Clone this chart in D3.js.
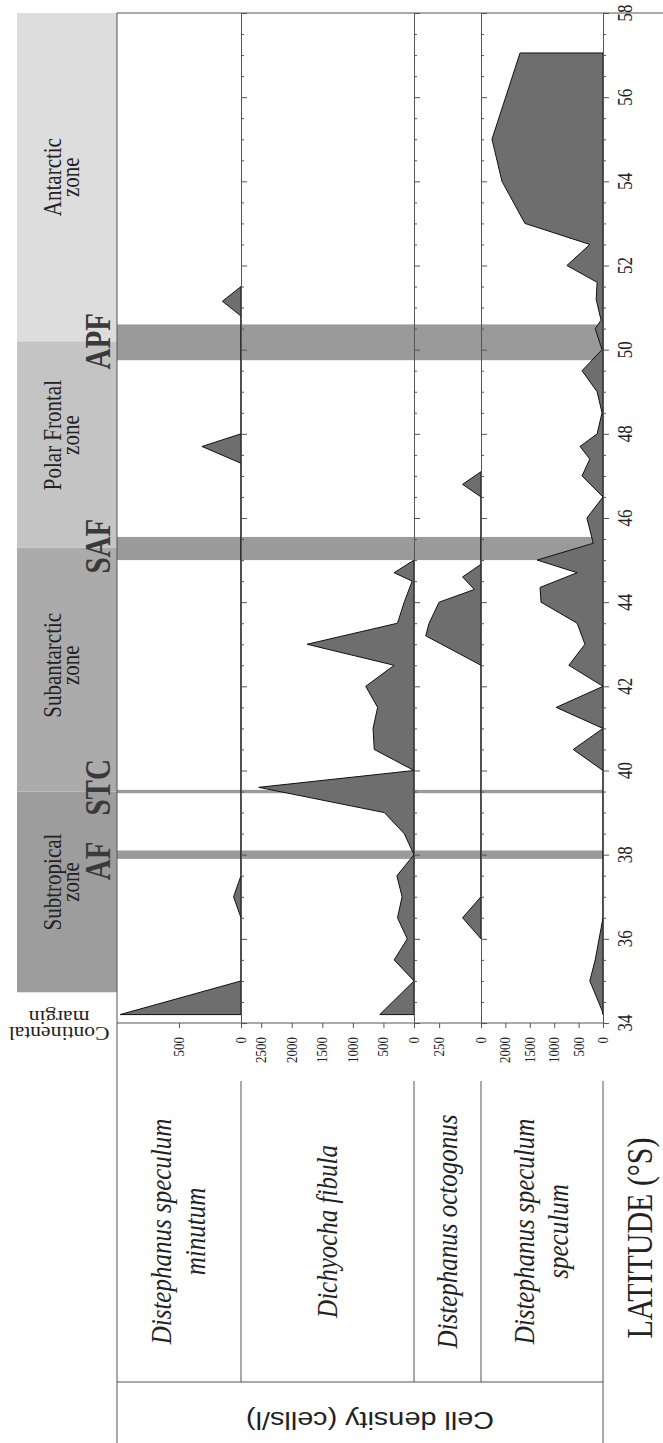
<!DOCTYPE html>
<html>
<head>
<meta charset="utf-8">
<script src="https://cdn.jsdelivr.net/npm/d3@7"></script>
<style>
  body { margin: 0; background: #fff; }
  svg { display: block; }
</style>
</head>
<body>
<div id="chart"></div>
<script>
// figure is drawn turned on its side: latitude runs up the page

// latitude samples (deg S) and densities (cells/l), one pair per species
var minutumLat = [34.2, 35.0, 36.5, 37.0, 37.5, 47.3, 47.7, 48.0, 50.8, 51.15, 51.5];
var minutumVal = [975, 0, 0, 60, 0, 0, 315, 0, 0, 150, 0];

var fibulaLat = [34.2, 35.0, 35.5, 36.0, 36.5, 37.0, 37.5, 38.0, 38.5, 39.0, 39.6, 40.0,
                 40.5, 41.0, 41.5, 42.0, 42.5, 43.0, 43.5, 44.0, 44.5, 44.7, 45.0];
var fibulaVal = [560, 0, 325, 110, 270, 195, 280, 0, 160, 485, 2540, 0,
                 650, 670, 595, 790, 325, 1750, 270, 160, 30, 325, 0];

var octogonusLat = [36.0, 36.5, 37.0, 42.5, 43.2, 43.5, 44.0, 44.3, 44.6, 44.9, 46.5, 46.8, 47.1];
var octogonusVal = [0, 110, 0, 0, 330, 310, 250, 40, 110, 0, 0, 110, 0];

var speculumLat = [34.2, 34.3, 35.0, 35.5, 36.5, 40.0, 40.5, 41.0, 41.5, 42.0, 42.5, 43.0, 43.5,
                   44.0, 44.35, 44.7, 45.0, 45.4, 46.0, 46.5, 47.0, 47.4, 47.7, 48.0, 48.5,
                   49.0, 49.5, 50.0, 50.5, 50.7, 51.2, 51.6, 52.0, 52.5, 53.0, 54.0, 55.0, 57.05];
var speculumVal = [0, 20, 270, 160, 0, 0, 610, 0, 960, 0, 700, 370, 530,
                   1270, 1290, 530, 1350, 200, 330, 0, 430, 270, 470, 120, 20,
                   120, 430, 20, 160, 40, 140, 120, 740, 270, 1600, 2070, 2275, 1700];

// species panels, left to right on the page
var panelNames = [["Distephanus speculum", "minutum"], ["Dichyocha fibula"],
                  ["Distephanus octogonus"], ["Distephanus speculum", "speculum"]];
var panelMax = [1000, 2830, 400, 2500];
var panelTicks = [[0, 500], [0, 500, 1000, 1500, 2000, 2500], [0, 250], [0, 500, 1000, 1500, 2000]];

// water masses and fronts
var zoneNames = [["Subtropical", "zone"], ["Subantarctic", "zone"], ["Polar Frontal", "zone"], ["Antarctic", "zone"]];
var zoneFrom = [34.73, 39.5, 45.3, 50.2];
var zoneTo = [39.5, 45.3, 50.2, 58];
var zoneLabelLat = [37.35, 42.5, 47.97, 54.1];
var frontNames = ["AF", "STC", "SAF", "APF"];
var frontFrom = [37.9, 39.46, 45.0, 49.75];
var frontTo = [38.1, 39.54, 45.55, 50.6];
var frontLabelLat = [37.85, 39.6, 45.33, 50.2];
var latTicks = d3.range(34, 58.01, 2);

var svgWidth = 663, svgHeight = 1443;
var plotLeft = 117, plotRight = 603, plotTop = 13, plotBottom = 1023;
var panelEdges = [117, 241, 414, 481, 603];
var zoneColors = ["#9d9d9d", "#ababab", "#c4c4c4", "#dddddd"];
var lineColor = "#555";
var stretch = 1.2;  // glyphs in the source are wider across the page

var svg = d3.select("#chart").append("svg")
  .attr("width", svgWidth)
  .attr("height", svgHeight);

var y = d3.scaleLinear().domain([34, 58]).range([plotBottom, plotTop]);

// text read bottom-to-top
function upText(x, yy, str, size, opt) {
  opt = opt || {};
  return svg.append("text")
    .attr("transform", "translate(" + x + "," + yy + ") rotate(-90) scale(1," + stretch + ")")
    .attr("text-anchor", opt.anchor || "middle")
    .attr("font-family", opt.family || "'Liberation Serif', serif")
    .attr("font-size", size)
    .attr("font-style", opt.italic ? "italic" : null)
    .attr("font-weight", opt.bold ? "bold" : null)
    .attr("fill", opt.fill || "#222")
    .text(str);
}
// text turned upside-down
function flipText(x, yy, str, size, opt) {
  opt = opt || {};
  return svg.append("text")
    .attr("transform", "translate(" + x + "," + yy + ") rotate(180) scale(" + stretch + ",1)")
    .attr("text-anchor", "middle")
    .attr("font-family", opt.family || "'Liberation Serif', serif")
    .attr("font-size", size)
    .attr("fill", opt.fill || "#222")
    .text(str);
}

// zone column
zoneNames.forEach(function(name, i) {
  svg.append("rect")
    .attr("x", 17).attr("width", plotLeft - 17)
    .attr("y", y(zoneTo[i])).attr("height", y(zoneFrom[i]) - y(zoneTo[i]))
    .attr("fill", zoneColors[i]);
  var cy = y(zoneLabelLat[i]);
  upText(61, cy, name[0], 21);
  upText(79, cy, name[1], 21);
});
flipText(59, 1011, "margin", 18);
flipText(59, 1027, "Continental", 18);

frontNames.forEach(function(name, i) {
  upText(110, y(frontLabelLat[i]), name, 29, {bold: true, fill: "#3a3a3a"});
});

// front bands across the panels
frontNames.forEach(function(name, i) {
  svg.append("rect")
    .attr("x", plotLeft).attr("width", plotRight - plotLeft)
    .attr("y", y(frontTo[i])).attr("height", Math.max(3, y(frontFrom[i]) - y(frontTo[i])))
    .attr("fill", "#9a9a9a");
});

// density profiles
var series = [[minutumLat, minutumVal], [fibulaLat, fibulaVal],
              [octogonusLat, octogonusVal], [speculumLat, speculumVal]];
series.forEach(function(s, i) {
  var x = d3.scaleLinear().domain([0, panelMax[i]]).range([panelEdges[i + 1], panelEdges[i]]);
  var pts = s[0].map(function(lat, j) { return {lat: lat, v: s[1][j]}; });
  var area = d3.area()
    .y(function(d) { return y(d.lat); })
    .x0(x(0))
    .x1(function(d) { return x(d.v); });
  svg.append("path")
    .datum(pts)
    .attr("d", area)
    .attr("fill", "#6e6e6e")
    .attr("stroke", "#111")
    .attr("stroke-width", 1)
    .attr("stroke-linejoin", "miter");

  // density axis under the panel
  var axis = d3.axisBottom(x).tickValues(panelTicks[i]).tickSize(5).tickFormat("");
  var g = svg.append("g")
    .attr("transform", "translate(0," + plotBottom + ")")
    .call(axis);
  g.select(".domain").remove();
  g.selectAll("line").attr("stroke", lineColor);
  panelTicks[i].forEach(function(t) {
    upText(x(t) + 5, 1037, String(t), 13, {anchor: "end"});
  });
});

// latitude ticks on every panel edge
panelEdges.slice(1).forEach(function(px) {
  var axis = d3.axisRight(y).tickValues(d3.range(34, 58.01, 0.5))
    .tickSize(3).tickFormat("");
  var g = svg.append("g").attr("transform", "translate(" + px + ",0)").call(axis);
  g.select(".domain").attr("stroke", lineColor);
  g.selectAll("line").attr("stroke", lineColor)
    .attr("x2", function(d) { return d % 2 === 0 ? 6 : 3; });
});

// frame
svg.append("line").attr("x1", plotLeft).attr("x2", svgWidth).attr("y1", plotTop).attr("y2", plotTop)
  .attr("stroke", lineColor);
svg.append("line").attr("x1", plotLeft).attr("x2", plotRight).attr("y1", plotBottom).attr("y2", plotBottom)
  .attr("stroke", lineColor);
svg.append("line").attr("x1", plotLeft).attr("x2", plotLeft).attr("y1", plotTop).attr("y2", svgHeight)
  .attr("stroke", lineColor);

latTicks.forEach(function(t) {
  upText(632, y(t), String(t), 17);
});

// species table under the plot
var tableTop = 1081, tableBottom = 1382;
panelEdges.forEach(function(px, i) {
  if (i === 0) return;
  svg.append("line").attr("x1", px).attr("x2", px)
    .attr("y1", tableTop).attr("y2", i === 4 ? svgHeight : tableBottom)
    .attr("stroke", lineColor);
});
svg.append("line").attr("x1", plotLeft).attr("x2", plotRight).attr("y1", tableBottom).attr("y2", tableBottom)
  .attr("stroke", lineColor);
panelNames.forEach(function(lines, i) {
  var cx = (panelEdges[i] + panelEdges[i + 1]) / 2;
  var cy = (tableTop + tableBottom) / 2;
  var gap = 34;
  lines.forEach(function(str, k) {
    var bx = cx + 9 + (k - (lines.length - 1) / 2) * gap;
    upText(bx, cy, str, 25, {italic: true});
  });
});

upText(652, 1238, "LATITUDE (°S)", 30);
flipText(370, 1412, "Cell density (cells/l)", 24, {family: "'Liberation Sans', Arial, sans-serif"});
</script>
</body>
</html>
